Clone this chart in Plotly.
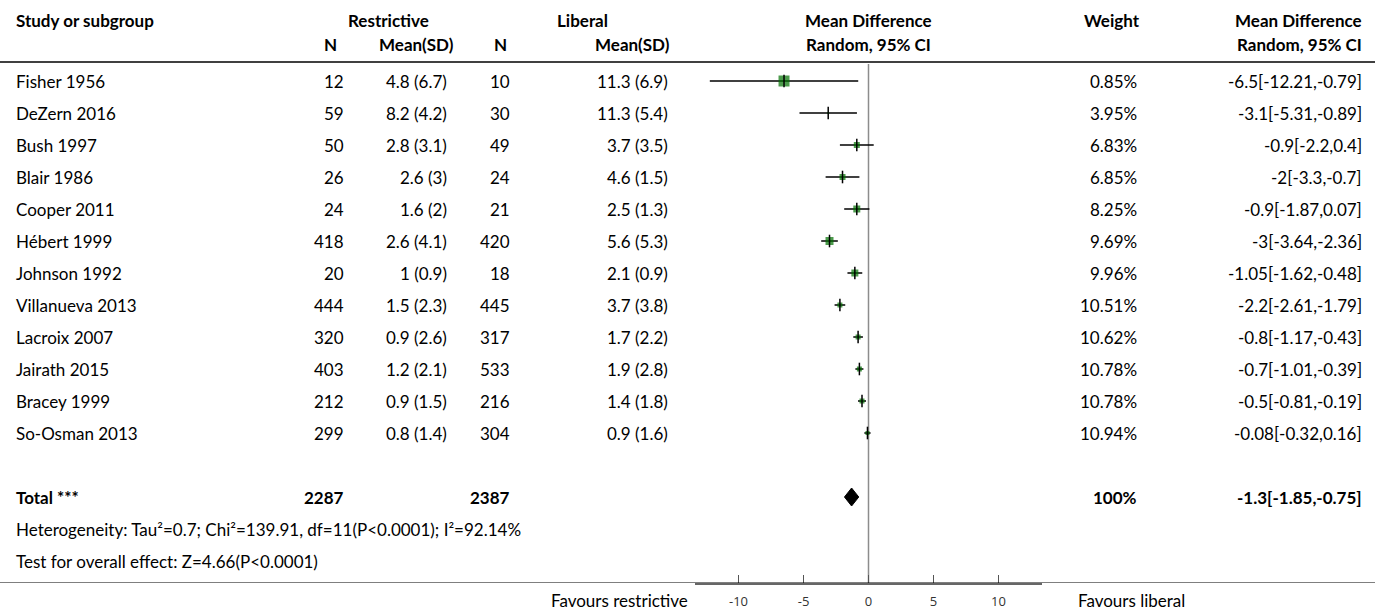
import plotly.graph_objects as go

# ---------------- data ----------------
studies = ["Fisher 1956", "DeZern 2016", "Bush 1997", "Blair 1986", "Cooper 2011",
           "Hébert 1999", "Johnson 1992", "Villanueva 2013", "Lacroix 2007",
           "Jairath 2015", "Bracey 1999", "So-Osman 2013"]
n_restrictive = [12, 59, 50, 26, 24, 418, 20, 444, 320, 403, 212, 299]
mean_restrictive = [4.8, 8.2, 2.8, 2.6, 1.6, 2.6, 1, 1.5, 0.9, 1.2, 0.9, 0.8]
sd_restrictive = [6.7, 4.2, 3.1, 3, 2, 4.1, 0.9, 2.3, 2.6, 2.1, 1.5, 1.4]
n_liberal = [10, 30, 49, 24, 21, 420, 18, 445, 317, 533, 216, 304]
mean_liberal = [11.3, 11.3, 3.7, 4.6, 2.5, 5.6, 2.1, 3.7, 1.7, 1.9, 1.4, 0.9]
sd_liberal = [6.9, 5.4, 3.5, 1.5, 1.3, 5.3, 0.9, 3.8, 2.2, 2.8, 1.8, 1.6]
weights = [0.85, 3.95, 6.83, 6.85, 8.25, 9.69, 9.96, 10.51, 10.62, 10.78, 10.78, 10.94]
md = [-6.5, -3.1, -0.9, -2, -0.9, -3, -1.05, -2.2, -0.8, -0.7, -0.5, -0.08]
ci_low = [-12.21, -5.31, -2.2, -3.3, -1.87, -3.64, -1.62, -2.61, -1.17, -1.01, -0.81, -0.32]
ci_high = [-0.79, -0.89, 0.4, -0.7, 0.07, -2.36, -0.48, -1.79, -0.43, -0.39, -0.19, 0.16]
box_sizes = [11, 2, 6, 6, 7, 8, 7, 5, 5, 5, 5, 4]

total_n_restrictive = 2287
total_n_liberal = 2387
total_md = -1.3
total_low = -1.85
total_high = -0.75
heterogeneity = "Heterogeneity: Tau²=0.7; Chi²=139.91, df=11(P<0.0001); I²=92.14%"
overall = "Test for overall effect: Z=4.66(P<0.0001)"
x_ticks = [-10, -5, 0, 5, 10]
x_tick_labels = ["-10", "-5", "0", "5", "10"]

# ---------------- layout constants (pixels) ----------------
W, H = 1375, 612
FONT = "Lato, 'Noto Sans', sans-serif"
FS = 17
row0, step = 81, 32
rows_y = [row0 + step * i for i in range(len(studies))]
total_y = 497
het_y = 529
test_y = 561
axis_y = 583

fig = go.Figure()

# CI lines
for lo, hi, y in zip(ci_low, ci_high, rows_y):
    fig.add_trace(go.Scatter(x=[lo, hi], y=[y, y], mode="lines",
                             line=dict(color="black", width=1.5),
                             hoverinfo="skip", showlegend=False))
# squares
fig.add_trace(go.Scatter(x=md, y=rows_y, mode="markers",
                         marker=dict(symbol="square", size=box_sizes, color="#007000",
                                     line=dict(width=0)),
                         showlegend=False))
# point estimate tick
fig.add_trace(go.Scatter(x=md, y=rows_y, mode="markers",
                         marker=dict(symbol="line-ns", size=9,
                                     line=dict(width=1.5, color="black")),
                         showlegend=False))
# diamond
fig.add_trace(go.Scatter(x=[total_low, total_md, total_high, total_md, total_low],
                         y=[total_y, total_y - 9, total_y, total_y + 9, total_y],
                         mode="lines", fill="toself", fillcolor="black",
                         line=dict(color="black", width=1), showlegend=False))

shapes = []
shapes.append(dict(type="line", xref="x", yref="y", x0=0, x1=0, y0=64, y1=axis_y,
                   line=dict(color="#8c8c8c", width=1.5), layer="below"))
shapes.append(dict(type="line", xref="paper", yref="y", x0=0, x1=1, y0=62, y1=62,
                   line=dict(color="black", width=1.5)))
shapes.append(dict(type="line", xref="paper", yref="y", x0=0, x1=1, y0=axis_y, y1=axis_y,
                   line=dict(color="black", width=1.2)))

ann = []


def txt(x, y, s, anchor="left", bold=False, size=FS, yref="y"):
    ann.append(dict(x=x / W, y=y, xref="paper", yref=yref,
                    text=f"<b>{s}</b>" if bold else s,
                    xanchor=anchor, yanchor="middle", showarrow=False,
                    font=dict(family=FONT, size=size, color="black")))


# headers
txt(14, 20, "Study or subgroup", bold=True)
txt(388, 20, "Restrictive", "center", True)
txt(582, 20, "Liberal", "center", True)
txt(868, 20, "Mean Difference", "center", True)
txt(1112, 20, "Weight", "center", True)
txt(1364, 20, "Mean Difference", "right", True)
txt(330, 44, "N", "center", True)
txt(416, 44, "Mean(SD)", "center", True)
txt(500, 44, "N", "center", True)
txt(632, 44, "Mean(SD)", "center", True)
txt(868, 44, "Random, 95% CI", "center", True)
txt(1364, 44, "Random, 95% CI", "right", True)

for i, y in enumerate(rows_y):
    txt(14, y, studies[i])
    txt(346, y, str(n_restrictive[i]), "right")
    txt(449, y, f"{mean_restrictive[i]:g} ({sd_restrictive[i]:g})", "right")
    txt(512, y, str(n_liberal[i]), "right")
    txt(670, y, f"{mean_liberal[i]:g} ({sd_liberal[i]:g})", "right")
    txt(1139, y, f"{weights[i]:.2f}%", "right")
    txt(1364, y, f"{md[i]:g}[{ci_low[i]:g},{ci_high[i]:g}]", "right")

txt(14, total_y, "Total ***", bold=True)
txt(346, total_y, str(total_n_restrictive), "right", True)
txt(512, total_y, str(total_n_liberal), "right", True)
txt(1139, total_y, "100%", "right", True)
txt(1364, total_y, f"{total_md:g}[{total_low:g},{total_high:g}]", "right", True)
txt(14, het_y, heterogeneity)
txt(14, test_y, overall)
txt(690, (H - 600) / H, "Favours restrictive", "right", yref="paper")
txt(1076, (H - 600) / H, "Favours liberal", "left", yref="paper")

fig.update_layout(
    width=W, height=H, margin=dict(l=0, r=0, t=0, b=0),
    paper_bgcolor="white", plot_bgcolor="white",
    shapes=shapes, annotations=ann, showlegend=False,
    xaxis=dict(domain=[695 / W, 1042 / W], range=[-13.35, 13.35],
               tickvals=x_ticks, ticktext=x_tick_labels,
               ticks="inside", ticklen=8, tickcolor="#555", tickwidth=1,
               showline=True, linecolor="#666", linewidth=2, showgrid=False, zeroline=False,
               ticklabelstandoff=5,
               tickfont=dict(family="'Open Sans', sans-serif", size=13, color="#333"),
               anchor="y"),
    yaxis=dict(domain=[(H - axis_y) / H, 1], range=[axis_y, 0], visible=False,
               showgrid=False, zeroline=False),
)

fig.write_html("out.html")
